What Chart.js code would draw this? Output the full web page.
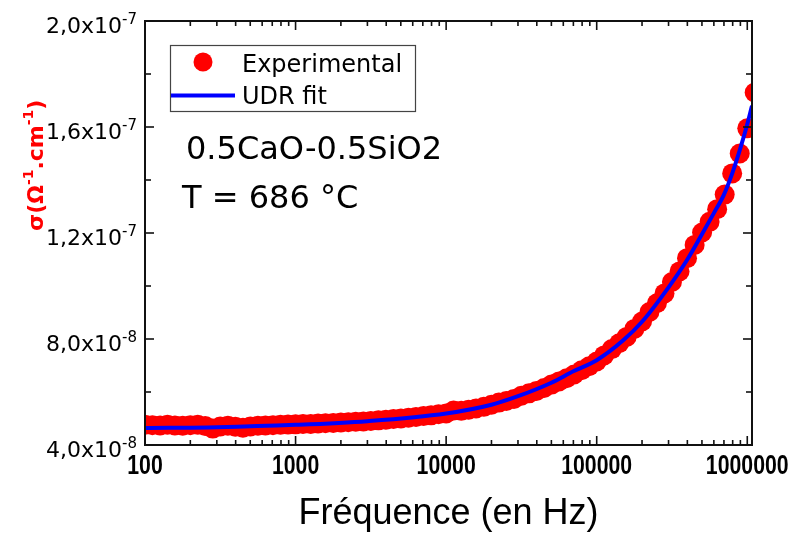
<!DOCTYPE html>
<html>
<head>
<meta charset="utf-8">
<script src="https://cdn.jsdelivr.net/npm/chart.js@4.4.1/dist/chart.umd.min.js"></script>
<style>
  html, body { margin: 0; padding: 0; background: #ffffff; }
  #wrap { width: 791px; height: 536px; }
</style>
</head>
<body>
<div id="wrap"><canvas id="c" width="791" height="536"></canvas></div>
<script>
// Measured AC conductivity, 0.5CaO-0.5SiO2 at 686 °C
const freqExp = [
  100, 112, 126, 141, 158, 178, 200, 224, 251, 282, 316, 355, 398, 447, 501, 562, 631, 708, 794, 891,
  1000, 1120, 1260, 1410, 1580, 1780, 2000, 2240, 2510, 2820, 3160, 3550, 3980, 4470, 5010, 5620, 6310, 7080, 7940, 8910,
  10000, 11200, 12600, 14100, 15800, 17800, 20000, 22400, 25100, 28200, 31600, 35500, 39800, 44700, 50100, 56200, 63100, 70800, 79400, 89100,
  100000, 112000, 126000, 141000, 158000, 178000, 200000, 224000, 251000, 282000, 316000, 355000, 398000, 447000, 501000, 562000, 631000, 708000, 794000, 891000,
  1000000, 1120000
];
const sigmaExp = [
  4.76e-8, 4.75e-8, 4.74e-8, 4.76e-8, 4.74e-8, 4.73e-8, 4.75e-8, 4.76e-8, 4.72e-8, 4.62e-8, 4.70e-8, 4.73e-8, 4.69e-8, 4.65e-8, 4.70e-8, 4.73e-8, 4.74e-8, 4.75e-8, 4.76e-8, 4.77e-8,
  4.78e-8, 4.79e-8, 4.79e-8, 4.81e-8, 4.82e-8, 4.83e-8, 4.85e-8, 4.86e-8, 4.88e-8, 4.89e-8, 4.91e-8, 4.93e-8, 4.95e-8, 4.98e-8, 5.00e-8, 5.03e-8, 5.06e-8, 5.09e-8, 5.12e-8, 5.16e-8,
  5.19e-8, 5.30e-8, 5.29e-8, 5.33e-8, 5.38e-8, 5.44e-8, 5.52e-8, 5.60e-8, 5.66e-8, 5.74e-8, 5.86e-8, 5.95e-8, 6.04e-8, 6.15e-8, 6.28e-8, 6.40e-8, 6.52e-8, 6.66e-8, 6.82e-8, 6.97e-8,
  7.15e-8, 7.38e-8, 7.62e-8, 7.84e-8, 8.08e-8, 8.38e-8, 8.66e-8, 9.02e-8, 9.35e-8, 9.72e-8, 10.15e-8, 10.55e-8, 11.05e-8, 11.55e-8, 12.02e-8, 12.42e-8, 12.90e-8, 13.45e-8, 14.25e-8, 15.00e-8,
  15.95e-8, 17.30e-8
];

// Universal dielectric response fit
const freqFit = [100, 300, 1000, 3000, 10000, 20000, 30000, 50000, 70000, 100000, 150000, 200000, 300000, 400000, 500000, 600000, 700000, 800000, 900000, 1000000, 1075000];
const sigmaFit = [4.64e-8, 4.67e-8, 4.76e-8, 4.90e-8, 5.19e-8, 5.52e-8, 5.84e-8, 6.35e-8, 6.78e-8, 7.20e-8, 7.95e-8, 8.65e-8, 9.95e-8, 11.0e-8, 11.95e-8, 12.75e-8, 13.45e-8, 14.3e-8, 15.2e-8, 16.1e-8, 16.8e-8];

// Axis ticks
const xMajorTicks = [100, 1000, 10000, 100000, 1000000];
const xTickLabels = ['100', '1000', '10000', '100000', '1000000'];
const xMinorTicks = [
  200, 300, 400, 500, 600, 700, 800, 900,
  2000, 3000, 4000, 5000, 6000, 7000, 8000, 9000,
  20000, 30000, 40000, 50000, 60000, 70000, 80000, 90000,
  200000, 300000, 400000, 500000, 600000, 700000, 800000, 900000
];
const yMajorTicks = [4e-8, 8e-8, 1.2e-7, 1.6e-7, 2e-7];
const yTickMantissa = ['4,0', '8,0', '1,2', '1,6', '2,0'];
const yTickExponent = ['-8', '-8', '-7', '-7', '-7'];
const yMinorTicks = [6e-8, 1e-7, 1.4e-7, 1.8e-7];

const sampleName = '0.5CaO-0.5SiO2';
const temperatureText = 'T = 686 °C';
const xTitle = 'Fréquence (en Hz)';

const FONT = "'DejaVu Sans', 'Liberation Sans', Arial, sans-serif";
const ARIAL = "'Liberation Sans', Arial, sans-serif";

// Draws a run of text pieces, some raised as superscripts
function measureRuns(ctx, runs, size, supSize, weight) {
  let w = 0;
  runs.forEach(r => {
    ctx.font = `${weight} ${r.sup ? supSize : size}px ${FONT}`;
    w += ctx.measureText(r.t).width;
  });
  return w;
}
function drawRuns(ctx, runs, x, y, size, supSize, weight, rise) {
  let cx = x;
  runs.forEach(r => {
    ctx.font = `${weight} ${r.sup ? supSize : size}px ${FONT}`;
    ctx.fillText(r.t, cx, r.sup ? y - rise : y);
    cx += ctx.measureText(r.t).width;
  });
}

const decorations = {
  id: 'decorations',
  afterDatasetsDraw(chart) {
    const ctx = chart.ctx;
    const { left, right, top, bottom } = chart.chartArea;
    const xs = chart.scales.x, ys = chart.scales.y;
    ctx.save();

    // frame
    ctx.strokeStyle = '#111';
    ctx.lineWidth = 2;
    ctx.strokeRect(left, top, right - left, bottom - top);

    // inward ticks on all four sides
    const tick = (x1, y1, x2, y2) => { ctx.beginPath(); ctx.moveTo(x1, y1); ctx.lineTo(x2, y2); ctx.stroke(); };
    ctx.lineWidth = 1.6;
    xMajorTicks.forEach(v => { const p = xs.getPixelForValue(v); tick(p, bottom, p, bottom - 9); tick(p, top, p, top + 9); });
    xMinorTicks.forEach(v => { const p = xs.getPixelForValue(v); tick(p, bottom, p, bottom - 5); tick(p, top, p, top + 5); });
    yMajorTicks.forEach(v => { const p = ys.getPixelForValue(v); tick(left, p, left + 9, p); tick(right, p, right - 9, p); });
    yMinorTicks.forEach(v => { const p = ys.getPixelForValue(v); tick(left, p, left + 6, p); tick(right, p, right - 6, p); });

    // x tick labels: bold, condensed
    ctx.fillStyle = '#000';
    ctx.textBaseline = 'alphabetic';
    ctx.textAlign = 'center';
    ctx.font = `bold 28px ${ARIAL}`;
    xMajorTicks.forEach((v, i) => {
      const p = xs.getPixelForValue(v);
      ctx.save();
      ctx.translate(p, bottom + 29);
      ctx.scale(0.76, 1);
      ctx.fillText(xTickLabels[i], 0, 0);
      ctx.restore();
    });

    // y tick labels with power-of-ten exponent
    ctx.textAlign = 'left';
    yMajorTicks.forEach((v, i) => {
      const p = ys.getPixelForValue(v);
      const runs = [{ t: yTickMantissa[i] + 'x10' }, { t: yTickExponent[i], sup: true }];
      const w = measureRuns(ctx, runs, 22, 15, 'normal');
      drawRuns(ctx, runs, 137 - w, p + 12, 22, 15, 'normal', 9);
    });

    // y axis title, rotated
    ctx.save();
    ctx.translate(43, 231);
    ctx.rotate(-Math.PI / 2);
    ctx.fillStyle = '#ff0000';
    drawRuns(ctx, [{ t: 'σ(Ω' }, { t: '-1', sup: true }, { t: '.cm' }, { t: '-1', sup: true }, { t: ')' }], 0, 0, 22, 14, 'bold', 10);
    ctx.restore();

    // legend
    const dsExp = chart.data.datasets[0], dsFit = chart.data.datasets[1];
    ctx.strokeStyle = '#444';
    ctx.lineWidth = 1.2;
    ctx.strokeRect(170.5, 45.5, 245, 66);
    ctx.fillStyle = dsExp.pointBackgroundColor;
    ctx.beginPath(); ctx.arc(203, 62, 9.5, 0, Math.PI * 2); ctx.fill();
    ctx.strokeStyle = dsFit.borderColor;
    ctx.lineWidth = dsFit.borderWidth;
    tick(171, 95.5, 235, 95.5);
    ctx.fillStyle = '#000';
    ctx.font = `24px ${FONT}`;
    ctx.fillText(dsExp.label, 242, 72);
    ctx.fillText(dsFit.label, 242, 104);

    // sample annotation
    ctx.font = `32px ${FONT}`;
    ctx.fillText(sampleName, 186, 159);
    ctx.fillText(temperatureText, 182, 208);

    ctx.restore();
  }
};

new Chart(document.getElementById('c'), {
  type: 'line',
  data: {
    datasets: [
      {
        label: 'Experimental',
        data: freqExp.map((f, i) => ({ x: f, y: sigmaExp[i] })),
        showLine: false,
        pointRadius: 10,
        pointBackgroundColor: '#ff0000',
        pointBorderColor: '#ff0000',
        pointBorderWidth: 0,
        clip: 0,
        order: 1
      },
      {
        label: 'UDR fit',
        data: freqFit.map((f, i) => ({ x: f, y: sigmaFit[i] })),
        borderColor: '#0000ff',
        borderWidth: 4,
        pointRadius: 0,
        cubicInterpolationMode: 'monotone',
        fill: false,
        clip: 0,
        order: 0
      }
    ]
  },
  options: {
    responsive: false,
    animation: false,
    devicePixelRatio: 1,
    events: [],
    layout: { padding: { top: 21, right: 39, left: 0, bottom: 0 } },
    plugins: { legend: { display: false }, tooltip: { enabled: false } },
    scales: {
      x: {
        type: 'logarithmic',
        min: 100,
        max: 1075000,
        afterBuildTicks: s => { s.ticks = xMajorTicks.concat(xMinorTicks).sort((a, b) => a - b).map(v => ({ value: v })); },
        afterFit: s => { s.height = 91; },
        grid: { display: false, drawTicks: false },
        border: { display: false },
        ticks: { display: false },
        title: {
          display: true,
          text: xTitle,
          color: '#000',
          font: { family: ARIAL, size: 36 },
          padding: { top: 0, bottom: 0 }
        }
      },
      y: {
        type: 'linear',
        min: 4e-8,
        max: 2e-7,
        afterBuildTicks: s => { s.ticks = yMajorTicks.concat(yMinorTicks).sort((a, b) => a - b).map(v => ({ value: v })); },
        afterFit: s => { s.width = 145; },
        grid: { display: false, drawTicks: false },
        border: { display: false },
        ticks: { display: false }
      }
    }
  },
  plugins: [decorations]
});
</script>
</body>
</html>
